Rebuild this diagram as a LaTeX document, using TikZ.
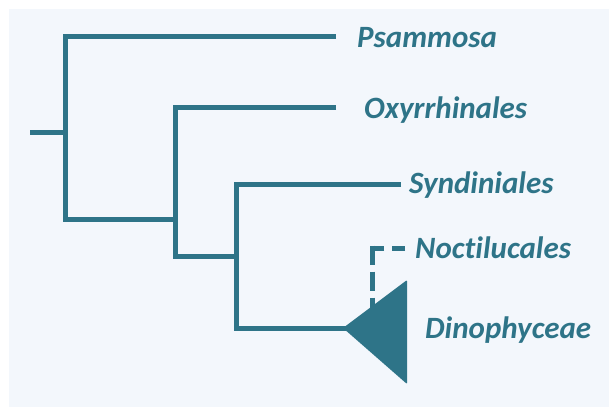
\documentclass[tikz,border=0pt]{standalone}
\usepackage{fontspec}
\setmainfont{Carlito}[Ligatures=NoCommon]
\definecolor{teal1}{HTML}{2E7488}
\definecolor{bg1}{HTML}{F3F7FC}
\tikzset{
  branch/.style={draw=teal1, line width=5pt, line join=miter},
  dashv/.style={branch, dash pattern=on 19pt off 7pt},
  dashh/.style={branch, dash pattern=on 13pt off 8pt},
  taxon/.style={anchor=base west, inner sep=0pt, text=teal1, font=\fontsize{31}{36}\selectfont\bfseries\itshape},
}
\begin{document}
\begin{tikzpicture}[x=1pt,y=-1pt]
\useasboundingbox (0,0) rectangle (609,407);
\fill[bg1] (9,9) rectangle (609,407);
% coordinates
\coordinate (root) at (30,132);
\coordinate (n1) at (65,132);
\coordinate (n1t) at (65,36);
\coordinate (n1b) at (65,219);
\coordinate (n2) at (175,219);
\coordinate (n2t) at (175,107);
\coordinate (n2b) at (175,256);
\coordinate (n3) at (236,256);
\coordinate (n3t) at (236,184);
\coordinate (n3b) at (236,328);
\coordinate (psE) at (336,36);
\coordinate (oxE) at (336,107);
\coordinate (syE) at (401,184);
\coordinate (apex) at (343,328);
\coordinate (triT) at (407,280);
\coordinate (triB) at (407,384);
\coordinate (ncS) at (372,310);
\coordinate (ncC) at (372,245.5);
\coordinate (ncH) at (369.5,248);
\coordinate (ncE) at (405,248);
% labels
\node[taxon] (psam) at (357,47) {Psammosa};
\node[taxon] (oxy) at (364,118) {Oxyrrhinales};
\node[taxon] (syn) at (409,193) {Syndiniales};
\node[taxon] (noc) at (415,258) {Noctilucales};
\node[taxon] (dino) at (425,338) {Dinophyceae};
% branches
\path[branch] (root) -- (n1);
\path[branch] (psE) -- (n1t) -- (n1b) -- (n2);
\path[branch] (oxE) -- (n2t) -- (n2b) -- (n3);
\path[branch] (syE) -- (n3t) -- (n3b) -- ([xshift=4pt]apex);
\path[dashv] (ncC) -- (ncS);
\path[dashh] (ncE) -- (ncH);
\fill[teal1, rounded corners=1pt] (apex) -- (triT) -- (triB) -- cycle;
\end{tikzpicture}
\end{document}
